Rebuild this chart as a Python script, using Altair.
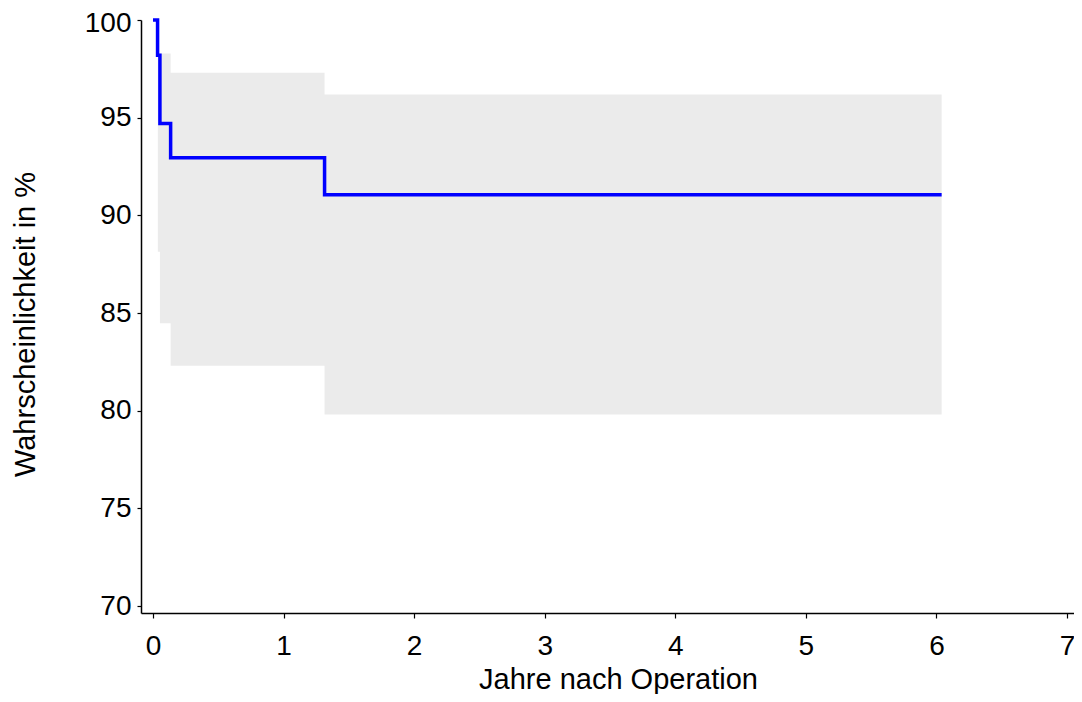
import altair as alt
import pandas as pd

# Kaplan-Meier estimate (step function)
km_years = [0.0, 0.035, 0.053, 0.135, 1.314, 6.04]
km_pct = [100.0, 98.2, 94.7, 92.95, 91.05, 91.05]

# confidence band (steps)
ci_years = [0.037, 0.053, 0.135, 1.314, 6.04]
ci_upper = [98.29, 98.29, 97.3, 96.18, 96.18]
ci_lower = [88.14, 84.47, 82.3, 79.81, 79.81]

x_ticks = [0, 1, 2, 3, 4, 5, 6, 7]
y_ticks = [70, 75, 80, 85, 90, 95, 100]

km = pd.DataFrame({"Jahre": km_years, "Prozent": km_pct})
ci = pd.DataFrame({"Jahre": ci_years, "oben": ci_upper, "unten": ci_lower})

xscale = alt.Scale(domain=[-0.0919, 7.0537], nice=False, zero=False)
yscale = alt.Scale(domain=[69.642, 100.0], nice=False, zero=False)

FONT = "Liberation Sans"

xaxis = alt.Axis(
    values=x_ticks, format="d", title="Jahre nach Operation", grid=False,
    domainColor="black", domainWidth=1.5, tickColor="black", tickWidth=1.2, tickSize=5,
    labelFont=FONT, labelFontSize=28, labelColor="black", labelPadding=14,
    titleFont=FONT, titleFontSize=29, titleFontWeight="normal", titleColor="black",
    titleBaseline="alphabetic", titleY=75, titleX=477,
)
yaxis = alt.Axis(
    values=y_ticks, format="d", title="Wahrscheinlichkeit in %", grid=False,
    domainColor="black", domainWidth=1.5, tickColor="black", tickWidth=1.2, tickSize=4,
    labelFont=FONT, labelFontSize=28, labelColor="black", labelPadding=6,
    labelOffset={"condition": {"test": "datum.value == 100", "value": 3}, "value": 0},
    titleFont=FONT, titleFontSize=29, titleFontWeight="normal", titleColor="black",
    titlePadding=44, titleY=304,
)

band = alt.Chart(ci).mark_area(interpolate="step-after", color="#EBEBEB", opacity=1).encode(
    x=alt.X("Jahre:Q", scale=xscale, axis=xaxis),
    y=alt.Y("unten:Q", scale=yscale, axis=yaxis),
    y2="oben:Q",
)

line = alt.Chart(km).mark_line(interpolate="step-after", color="#0000FF", strokeWidth=3.5).encode(
    x=alt.X("Jahre:Q", scale=xscale),
    y=alt.Y("Prozent:Q", scale=yscale),
)

chart = (band + line).properties(
    width=933, height=593,
    background="white",
    autosize=alt.AutoSizeParams(type="none"),
    padding={"left": 133, "top": 12, "right": 0, "bottom": 81},
).configure_view(stroke=None)

chart.save("out.html", embed_options={"renderer": "svg", "actions": False})
